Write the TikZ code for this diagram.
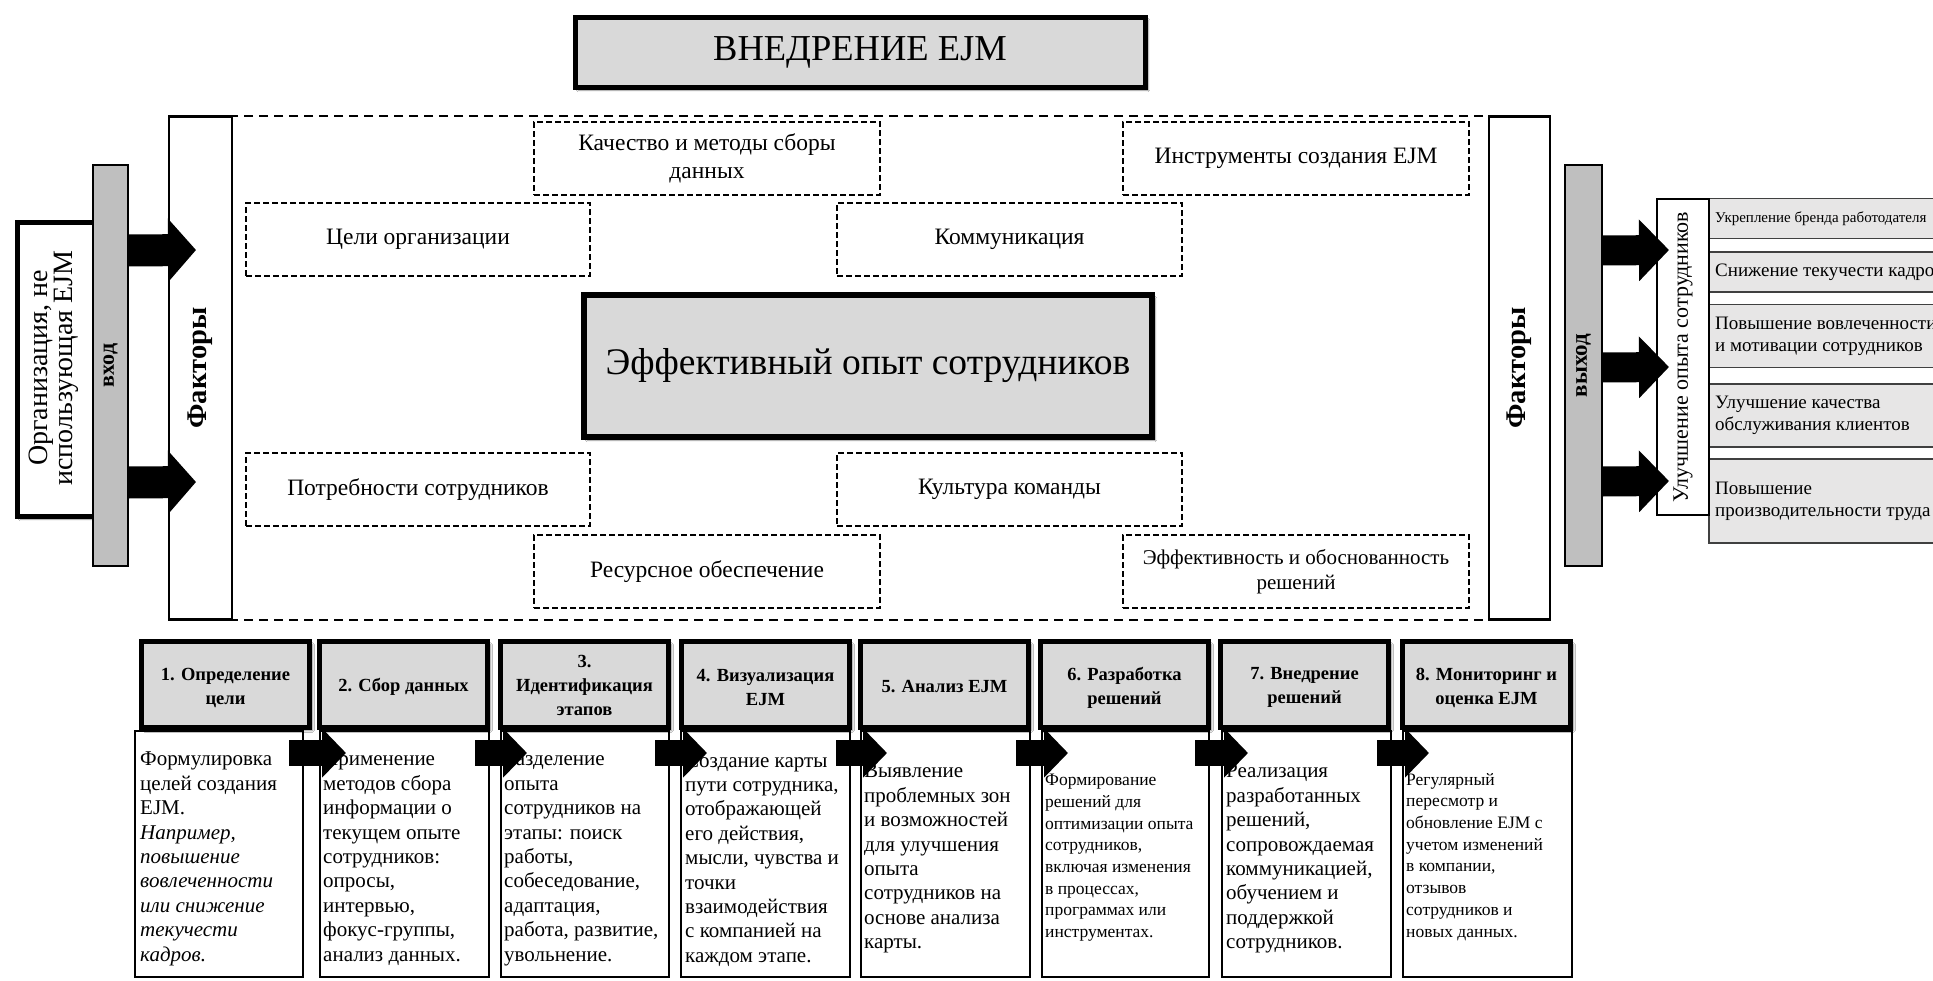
\documentclass[tikz,border=0pt]{standalone}
\usepackage{fontspec}
\setmainfont{Liberation Serif}
\usetikzlibrary{arrows.meta,shadows.blur}
\definecolor{hdrgrey}{HTML}{D9D9D9}
\definecolor{bargrey}{HTML}{BFBFBF}
\definecolor{resgrey}{HTML}{E7E6E6}
\newcommand{\fsz}[2]{\fontsize{#1}{#2}\selectfont}
\tikzset{
  bx/.style={rectangle, anchor=north west, inner sep=0pt, outer sep=0pt},
  shad/.style={blur shadow={shadow xshift=3pt, shadow yshift=-3pt, shadow blur steps=6, shadow opacity=45}},
  titlebox/.style={bx, draw=black, line width=5pt, fill=hdrgrey, shad},
  centerbox/.style={bx, draw=black, line width=6pt, fill=hdrgrey, shad},
  bigdash/.style={bx, draw=black, line width=2pt, dash pattern=on 9pt off 6pt},
  factbox/.style={bx, draw=black, line width=2.5pt, fill=white},
  dbox/.style={bx, draw=black, line width=2pt, dash pattern=on 6pt off 3pt, fill=white},
  dtext/.style={font=\fsz{23.5}{28}, align=center},
  bar/.style={bx, draw=black, line width=2.5pt, fill=bargrey},
  orgbox/.style={bx, draw=black, line width=5pt, fill=white, shad},
  ulbox/.style={bx, draw=black, line width=2.5pt, fill=white},
  resbox/.style={bx, draw=black!75, line width=1.5pt, fill=resgrey},
  restext/.style={anchor=west, inner sep=0pt, align=left, font=\fsz{19}{21.7}},
  hdr/.style={bx, draw=black, line width=5pt, fill=hdrgrey, shad},
  hdrtext/.style={font=\bfseries\fsz{18.5}{24}, align=center, inner sep=0pt},
  desc/.style={bx, draw=black, line width=2.5pt, fill=white},
  dbig/.style={anchor=north west, inner sep=0pt, align=left, font=\fsz{21}{24.4}},
  dsmall/.style={anchor=north west, inner sep=0pt, align=left, font=\fsz{17.5}{21.7}},
  vlab/.style={rotate=90, inner sep=0pt},
  stepArrow/.style={draw=black, line width=26pt, -{Triangle[length=24pt,width=48pt]}},
  inArrow/.style={draw=black, line width=32pt, -{Triangle[length=28pt,width=62pt]}},
  outArrow/.style={draw=black, line width=30pt, -{Triangle[length=30pt,width=60pt]}}
}
\begin{document}
\begin{tikzpicture}[x=1pt,y=-1pt]
\useasboundingbox (0,0) rectangle (1933,980);
\clip (0,0) rectangle (1933,980);
\fill[white] (0,0) rectangle (1933,980);

% title
\node[titlebox, minimum width=570, minimum height=70] (title) at (575,17) {};
\node[font=\fsz{36.5}{40}] (titletxt) at (title.center) {ВНЕДРЕНИЕ EJM};

% frame of factors
\node[bigdash, minimum width=1380, minimum height=504] (frame) at (169,116) {};
\node[factbox, minimum width=63, minimum height=503] (factL) at (169,116.5) {};
\node[factbox, minimum width=61, minimum height=503] (factR) at (1489,116.5) {};
\node[vlab, font=\bfseries\fsz{28.5}{30}] (factLlab) at (factL.center) {Факторы};
\node[vlab, font=\bfseries\fsz{28.5}{30}] (factRlab) at (factR.center) {Факторы};

% dashed factor boxes
\node[dbox, minimum width=346, minimum height=73] (kach) at (534,122) {};
\node[dtext] (kachT) at (kach.center) {Качество и методы сборы\\данных};
\node[dbox, minimum width=346, minimum height=73] (instr) at (1123,122) {};
\node[dtext] (instrT) at (instr.center) {Инструменты создания EJM};
\node[dbox, minimum width=344, minimum height=73] (celi) at (246,203) {};
\node[dtext] (celiT) at (celi.center) {Цели организации};
\node[dbox, minimum width=345, minimum height=73] (komm) at (837,203) {};
\node[dtext] (kommT) at (komm.center) {Коммуникация};
\node[centerbox, minimum width=568, minimum height=142] (center) at (584,295) {};
\node[font=\fsz{37.5}{40}] (centerT) at (center.center) {Эффективный опыт сотрудников};
\node[dbox, minimum width=344, minimum height=73] (potr) at (246,453) {};
\node[dtext] (potrT) at (potr.center) {Потребности сотрудников};
\node[dbox, minimum width=345, minimum height=73] (kult) at (837,453) {};
\node[dtext] (kultT) at (kult.center) {Культура команды};
\node[dbox, minimum width=346, minimum height=73] (resu) at (534,535) {};
\node[dtext] (resuT) at (resu.center) {Ресурсное обеспечение};
\node[dbox, minimum width=346, minimum height=73] (effe) at (1123,535) {};
\node[dtext, font=\fsz{21}{25}] (effeT) at (effe.center) {Эффективность и обоснованность\\решений};

% input side
\node[orgbox, minimum width=90, minimum height=294] (org) at (17,222) {};
\node[bar, minimum width=35, minimum height=401] (vhod) at (93,165) {};
\node[vlab, align=center, font=\fsz{28}{25}] (orgT) at (54,368) {Организация, не\\использующая EJM};
\node[vlab, font=\bfseries\fsz{22}{24}] (vhodT) at (vhod.center) {вход};
\draw[inArrow] ([yshift=115pt]vhod.east) -- ([xshift=27pt,yshift=118pt]factL.west);
\draw[inArrow] ([yshift=-117pt]vhod.east) -- ([xshift=27pt,yshift=-114pt]factL.west);

% output side
\node[bar, minimum width=37, minimum height=401] (vyhod) at (1565,165) {};
\node[vlab, font=\bfseries\fsz{23}{24}] (vyhodT) at (vyhod.center) {выход};
\node[resbox, minimum width=240, minimum height=40] (r1) at (1709,198.5) {};
\node[resbox, minimum width=240, minimum height=40] (r2) at (1709,252) {};
\node[resbox, minimum width=240, minimum height=63] (r3) at (1709,304.5) {};
\node[resbox, minimum width=240, minimum height=63] (r4) at (1709,384) {};
\node[resbox, minimum width=240, minimum height=84] (r5) at (1709,459) {};
\node[restext, font=\fsz{15}{18}] (r1T) at ([xshift=6pt]r1.west) {Укрепление бренда работодателя};
\node[restext] (r2T) at ([xshift=6pt]r2.west) {Снижение текучести кадров};
\node[restext] (r3T) at ([xshift=6pt]r3.west) {Повышение вовлеченности\\и мотивации сотрудников};
\node[restext] (r4T) at ([xshift=6pt]r4.west) {Улучшение качества\\обслуживания клиентов};
\node[restext] (r5T) at ([xshift=6pt]r5.west) {Повышение\\производительности труда};
\node[ulbox, minimum width=52, minimum height=316] (uluch) at (1657,199) {};
\node[vlab, font=\fsz{22}{24}] (uluchT) at (uluch.center) {Улучшение опыта сотрудников};
\draw[outArrow] ([yshift=115pt]vyhod.east) -- ([xshift=12pt,yshift=107pt]uluch.west);
\draw[outArrow] ([yshift=-2pt]vyhod.east) -- ([xshift=12pt,yshift=-10pt]uluch.west);
\draw[outArrow] ([yshift=-116pt]vyhod.east) -- ([xshift=12pt,yshift=-124pt]uluch.west);

% steps: description boxes
\node[desc, minimum width=168, minimum height=246] (d1) at (135,731) {};
\node[desc, minimum width=169, minimum height=246] (d2) at (320,731) {};
\node[desc, minimum width=168, minimum height=246] (d3) at (501,731) {};
\node[desc, minimum width=169, minimum height=246] (d4) at (681,731) {};
\node[desc, minimum width=169, minimum height=246] (d5) at (861,731) {};
\node[desc, minimum width=167, minimum height=246] (d6) at (1042,731) {};
\node[desc, minimum width=169, minimum height=246] (d7) at (1222,731) {};
\node[desc, minimum width=169, minimum height=246] (d8) at (1403,731) {};

% step headers
\node[hdr, minimum width=168, minimum height=86] (h1) at (141.5,641.5) {};
\node[hdr, minimum width=168, minimum height=86] (h2) at (319.5,641.5) {};
\node[hdr, minimum width=168, minimum height=86] (h3) at (500.5,641.5) {};
\node[hdr, minimum width=168, minimum height=86] (h4) at (681.5,641.5) {};
\node[hdr, minimum width=168, minimum height=86] (h5) at (860.5,641.5) {};
\node[hdr, minimum width=168, minimum height=86] (h6) at (1040.5,641.5) {};
\node[hdr, minimum width=168, minimum height=86] (h7) at (1220.5,641.5) {};
\node[hdr, minimum width=168, minimum height=86] (h8) at (1402.5,641.5) {};
\node[hdrtext] (h1T) at ([yshift=-3pt]h1.center) {1. Определение\\цели};
\node[hdrtext] (h2T) at ([yshift=-2pt]h2.center) {2. Сбор данных};
\node[hdrtext] (h3T) at ([yshift=-1pt]h3.center) {3.\\Идентификация\\этапов};
\node[hdrtext] (h4T) at ([yshift=-3pt]h4.center) {4. Визуализация\\EJM};
\node[hdrtext] (h5T) at ([yshift=-2pt]h5.center) {5. Анализ EJM};
\node[hdrtext] (h6T) at ([yshift=-3pt]h6.center) {6. Разработка\\решений};
\node[hdrtext] (h7T) at ([yshift=-3pt]h7.center) {7. Внедрение\\решений};
\node[hdrtext] (h8T) at ([yshift=-3pt]h8.center) {8. Мониторинг и\\оценка EJM};

% description texts
\node[dbig] (t1) at (140,752) {Формулировка\\целей создания\\EJM.\\\textit{Например,}\\\textit{повышение}\\\textit{вовлеченности}\\\textit{или снижение}\\\textit{текучести}\\\textit{кадров.}};
\node[dbig] (t2) at (323,752) {Применение\\методов сбора\\информации о\\текущем опыте\\сотрудников:\\опросы,\\интервью,\\фокус-группы,\\анализ данных.};
\node[dbig] (t3) at (504,752) {Разделение\\опыта\\сотрудников на\\этапы: поиск\\работы,\\собеседование,\\адаптация,\\работа, развитие,\\увольнение.};
\node[dbig] (t4) at (685,753) {Создание карты\\пути сотрудника,\\отображающей\\его действия,\\мысли, чувства и\\точки\\взаимодействия\\с компанией на\\каждом этапе.};
\node[dbig] (t5) at (864,764) {Выявление\\проблемных зон\\и возможностей\\для улучшения\\опыта\\сотрудников на\\основе анализа\\карты.};
\node[dsmall] (t6) at (1045,774) {Формирование\\решений для\\оптимизации опыта\\сотрудников,\\включая изменения\\в процессах,\\программах или\\инструментах.};
\node[dbig] (t7) at (1226,764) {Реализация\\разработанных\\решений,\\сопровождаемая\\коммуникацией,\\обучением и\\поддержкой\\сотрудников.};
\node[dsmall] (t8) at (1406,773) {Регулярный\\пересмотр и\\обновление EJM с\\учетом изменений\\в компании,\\отзывов\\сотрудников и\\новых данных.};

% step arrows
\draw[stepArrow] ([xshift=-14pt,yshift=-22pt]d1.north east) -- ([xshift=26pt,yshift=-22pt]d2.north west);
\draw[stepArrow] ([xshift=-14pt,yshift=-22pt]d2.north east) -- ([xshift=26pt,yshift=-22pt]d3.north west);
\draw[stepArrow] ([xshift=-14pt,yshift=-22pt]d3.north east) -- ([xshift=26pt,yshift=-22pt]d4.north west);
\draw[stepArrow] ([xshift=-14pt,yshift=-22pt]d4.north east) -- ([xshift=26pt,yshift=-22pt]d5.north west);
\draw[stepArrow] ([xshift=-14pt,yshift=-22pt]d5.north east) -- ([xshift=26pt,yshift=-22pt]d6.north west);
\draw[stepArrow] ([xshift=-14pt,yshift=-22pt]d6.north east) -- ([xshift=26pt,yshift=-22pt]d7.north west);
\draw[stepArrow] ([xshift=-14pt,yshift=-22pt]d7.north east) -- ([xshift=26pt,yshift=-22pt]d8.north west);
\end{tikzpicture}
\end{document}
